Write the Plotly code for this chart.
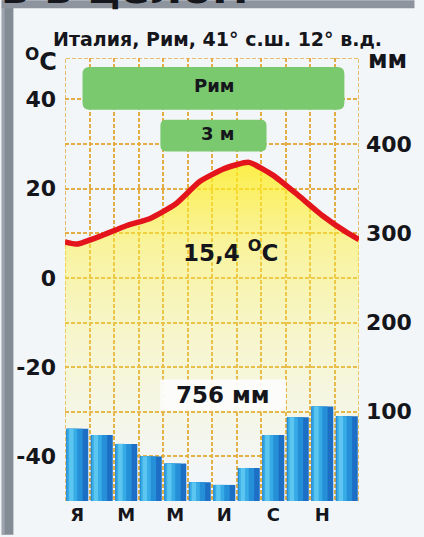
import plotly.graph_objects as go

# ---------------- data ----------------
months = ["Я", "Ф", "М", "А", "М", "И", "И", "А", "С", "О", "Н", "Д"]
month_pos = [0.5, 1.5, 2.5, 3.5, 4.5, 5.5, 6.5, 7.5, 8.5, 9.5, 10.5, 11.5]
temperature = [7.6, 9.5, 11.7, 13.4, 16.5, 21.6, 24.5, 25.9, 23.0, 18.6, 14.0, 10.2]
temp_edge_left = 8.1     # line value drawn at left border
temp_edge_right = 8.6    # line value drawn at right border
precipitation = [81, 74, 64, 50, 42, 21, 18, 37, 74, 94, 106, 95]
temp_ticks = [-40, -20, 0, 20, 40]
precip_ticks = [100, 200, 300, 400]

title_text = "Италия, Рим, 41° с.ш. 12° в.д."
station = "Рим"
altitude = "3 м"
mean_temp = "15,4"
annual_precip = "756 мм"

# ---------------- layout constants ----------------
W, H = 424, 537
ML, MR, MT, MB = 65, 57, 58, 34
T_MIN, T_MAX = -50, 49.3
P_SCALE = 5  # mm per degree
X_MIN, X_MAX = 0, 12

FONT = "DejaVu Sans, Liberation Sans, Arial, sans-serif"
TXT = "#15161c"
GRID = "#e2ad45"
PANEL = "#f3f6f9"

pw = W - ML - MR
ph = H - MT - MB
px_per_x = pw / (X_MAX - X_MIN)
px_per_y = ph / (T_MAX - T_MIN)

line_x = [X_MIN] + month_pos + [X_MAX]
line_y = [temp_edge_left] + temperature + [temp_edge_right]

fig = go.Figure()

# baseline for fill (bottom of temperature axis)
fig.add_trace(go.Scatter(x=[X_MIN, X_MAX], y=[T_MIN, T_MIN], mode="lines",
                         line=dict(width=0, color="rgba(0,0,0,0)"),
                         hoverinfo="skip", showlegend=False))
# yellow gradient fill under the temperature curve
fig.add_trace(go.Scatter(x=line_x, y=line_y, mode="lines",
                         line=dict(width=0, color="rgba(0,0,0,0)", shape="spline", smoothing=0.5),
                         fill="tonexty",
                         fillgradient=dict(type="vertical", start=-45, stop=26,
                                           colorscale=[[0, "rgba(255,248,120,0)"],
                                                       [0.45, "rgba(255,244,90,0.28)"],
                                                       [0.75, "rgba(255,240,60,0.5)"],
                                                       [1, "rgba(255,236,20,0.78)"]]),
                         hoverinfo="skip", showlegend=False))

# precipitation bars (cylinder look by overlaying narrower, lighter bars)
bar_layers = [
    (0.9, -0.45, "#1c6fc4"),
    (0.66, -0.44, "#2590d8"),
    (0.4, -0.40, "#37abe6"),
    (0.18, -0.33, "#5cc6f0"),
]
for w, off, col in bar_layers:
    fig.add_trace(go.Bar(x=month_pos, y=precipitation, width=w, offset=off,
                         marker=dict(color=col, line=dict(width=0)),
                         yaxis="y2", hoverinfo="skip", showlegend=False))

# temperature line
fig.add_trace(go.Scatter(x=line_x, y=line_y, mode="lines",
                         line=dict(color="#e3141b", width=5.5, shape="spline", smoothing=0.5),
                         hoverinfo="skip", showlegend=False))

# ---------------- helpers ----------------
def px2x(p):
    return X_MIN + (p - ML) / px_per_x

def py2y(p):
    return T_MIN + (H - MB - p) / px_per_y

def ppx(p):
    return (p - ML) / pw

def ppy(p):
    return (H - MB - p) / ph

def rrect(x0p, x1p, y0p, y1p, r):
    """rounded rectangle from pixel coords; returns data-coord path"""
    X0, X1 = px2x(x0p), px2x(x1p)
    Y1, Y0 = py2y(y0p), py2y(y1p)
    rx = r / px_per_x
    ry = r / px_per_y
    return (f"M {X0+rx},{Y0} L {X1-rx},{Y0} Q {X1},{Y0} {X1},{Y0+ry} "
            f"L {X1},{Y1-ry} Q {X1},{Y1} {X1-rx},{Y1} L {X0+rx},{Y1} "
            f"Q {X0},{Y1} {X0},{Y1-ry} L {X0},{Y0+ry} Q {X0},{Y0} {X0+rx},{Y0} Z")

shapes = [
    # left and top outer frame strips
    dict(type="rect", xref="paper", yref="paper", x0=ppx(0), x1=ppx(12), y0=ppy(H), y1=ppy(0),
         fillcolor="#838b95", line=dict(width=0), layer="below"),
    dict(type="rect", xref="paper", yref="paper", x0=ppx(0), x1=ppx(3), y0=ppy(H), y1=ppy(0),
         fillcolor="#9ea5ae", line=dict(width=0), layer="below"),
    dict(type="rect", xref="paper", yref="paper", x0=ppx(0), x1=ppx(W), y0=ppy(8), y1=ppy(0),
         fillcolor="#8d949d", line=dict(width=0), layer="below"),
    # dashed border (left, top, right)
    dict(type="path", xref="x", yref="y",
         path=f"M {X_MIN},{T_MIN} L {X_MIN},{T_MAX} L {X_MAX},{T_MAX} L {X_MAX},{T_MIN}",
         line=dict(color=GRID, width=1.6, dash="4px,2px"), layer="below"),
    # station box
    dict(type="path", xref="x", yref="y", path=rrect(83, 352, 67, 110, 7),
         fillcolor="#7bc96f", line=dict(width=0), layer="above"),
    # altitude box
    dict(type="path", xref="x", yref="y", path=rrect(163, 272, 120, 152, 6),
         fillcolor="#7bc96f", line=dict(width=0), layer="above"),
    # annual precipitation label background
    dict(type="rect", xref="x", yref="y", x0=px2x(163), x1=px2x(292), y0=py2y(412), y1=py2y(381),
         fillcolor="rgba(252,253,253,0.92)", line=dict(width=0), layer="above"),
]

bold = dict(family=FONT, color=TXT, weight="bold")

annotations = [
    # cut-off slide heading at the very top
    dict(text="в в целом", xref="paper", yref="paper", x=ppx(-3), y=ppy(15),
         xanchor="left", yanchor="bottom", showarrow=False,
         font=dict(size=44, **bold)),
    dict(text=title_text, xref="paper", yref="paper", x=ppx(222), y=ppy(39),
         xanchor="center", yanchor="middle", showarrow=False, font=dict(size=19, **bold)),
    dict(text="<sup>O</sup>C", xref="paper", yref="paper", x=ppx(59), y=ppy(60),
         xanchor="right", yanchor="middle", showarrow=False, font=dict(size=24, **bold)),
    dict(text="мм", xref="paper", yref="paper", x=ppx(374), y=ppy(60),
         xanchor="left", yanchor="middle", showarrow=False, font=dict(size=24, **bold)),
    dict(text=station, xref="x", yref="y", x=px2x(219), y=py2y(86),
         xanchor="center", yanchor="middle", showarrow=False, font=dict(size=18, **bold)),
    dict(text=altitude, xref="x", yref="y", x=px2x(222), y=py2y(134),
         xanchor="center", yanchor="middle", showarrow=False, font=dict(size=18, **bold)),
    dict(text=f"{mean_temp} <sup>O</sup>C", xref="x", yref="y", x=px2x(235), y=py2y(252),
         xanchor="center", yanchor="middle", showarrow=False, font=dict(size=23, **bold)),
    dict(text=annual_precip, xref="x", yref="y", x=px2x(227), y=py2y(397),
         xanchor="center", yanchor="middle", showarrow=False, font=dict(size=23, **bold)),
]

fig.update_layout(
    width=W, height=H,
    margin=dict(l=ML, r=MR, t=MT, b=MB, pad=0),
    paper_bgcolor=PANEL, plot_bgcolor=PANEL,
    barmode="overlay", showlegend=False,
    font=dict(family=FONT, color=TXT),
    xaxis=dict(range=[X_MIN, X_MAX], tickmode="linear", tick0=0, dtick=1,
               showticklabels=False, ticks="", showgrid=True, gridcolor=GRID,
               gridwidth=1.6, griddash="4px,2px", zeroline=False, showline=False,
               fixedrange=True),
    xaxis2=dict(range=[X_MIN, X_MAX], overlaying="x", side="bottom",
                tickmode="array", tickvals=month_pos[::2], ticktext=months[::2],
                ticks="", showgrid=False, zeroline=False, showline=False,
                tickfont=dict(size=18, **bold), ticklabelstandoff=1),
    yaxis=dict(range=[T_MIN, T_MAX], tickmode="array", tickvals=temp_ticks,
               ticktext=[str(v) for v in temp_ticks],
               showgrid=True, gridcolor=GRID, gridwidth=1.6, griddash="4px,2px",
               minor=dict(tickmode="linear", tick0=0, dtick=10, showgrid=True,
                          gridcolor=GRID, gridwidth=1.6, griddash="4px,2px", ticks=""),
               ticks="", zeroline=False, showline=False,
               tickfont=dict(size=22, **bold), ticklabelstandoff=8),
    yaxis2=dict(range=[0, (T_MAX - T_MIN) * P_SCALE], overlaying="y", side="right",
                tickmode="array", tickvals=precip_ticks,
                showgrid=False, zeroline=False, showline=False, ticks="",
                tickfont=dict(size=22, **bold), ticklabelstandoff=6),
    shapes=shapes,
    annotations=annotations,
)

# invisible trace so xaxis2 is rendered
fig.add_trace(go.Scatter(x=[X_MIN], y=[T_MIN], xaxis="x2", mode="markers",
                         marker=dict(opacity=0), hoverinfo="skip", showlegend=False))

fig.write_html("out.html", config={"displayModeBar": False},
               post_script="document.body.style.margin='0';document.body.style.overflow='hidden';")
